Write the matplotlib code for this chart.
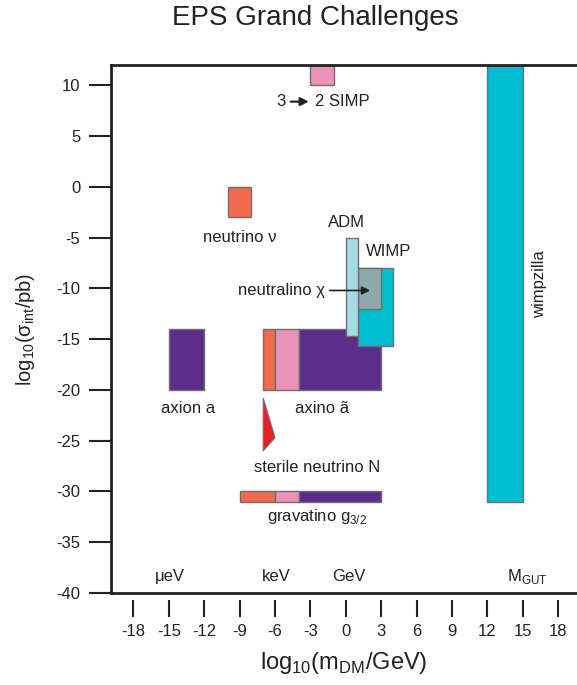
import matplotlib.pyplot as plt
from matplotlib.patches import Rectangle, Polygon

plt.rcParams['font.family'] = ['Liberation Sans', 'DejaVu Sans']
plt.rcParams['axes.unicode_minus'] = False
plt.rcParams['mathtext.fontset'] = 'custom'
plt.rcParams['mathtext.rm'] = 'Liberation Sans'

# boxes: name, x0, x1, y0, y1, colour  (log10 m / GeV, log10 sigma / pb)
box_names = ['simp', 'neutrino', 'axion', 'axino_n', 'axino_p', 'axino_x',
             'grav_n', 'grav_p', 'grav_x', 'wimp', 'neutralino', 'adm', 'wimpzilla']
box_x0 = [-3, -10, -15, -7, -6, -4, -9, -6, -4, 1, 1, 0, 12]
box_x1 = [-1, -8, -12, -6, -4, 3, -6, -4, 3, 4, 3, 1, 15]
box_y0 = [10, -3, -20, -20, -20, -20, -31, -31, -31, -15.7, -12, -14.7, -31]
box_y1 = [13, 0, -14, -14, -14, -14, -30, -30, -30, -8, -8, -5, 13]
box_colors = ['#e893b7', '#f26b4e', '#5b2c8a', '#f26b4e', '#e893b7', '#5b2c8a',
              '#f26b4e', '#e893b7', '#5b2c8a', '#00bdd2', '#8aabab', '#a6dbe6', '#00bdd2']

# sterile neutrino triangle
tri_x = [-7, -6, -7]
tri_y = [-20.8, -24.7, -26]

xticks = list(range(-18, 19, 3))
yticks = list(range(-40, 11, 5))

fig = plt.figure(figsize=(5.77, 6.85), dpi=100)
ax = fig.add_axes([0.1924, 0.1343, 0.8076, 0.7707])
ax.set_xlim(-19.9, 19.6)
ax.set_ylim(-40, 12)

for i in range(len(box_names)):
    ax.add_patch(Rectangle((box_x0[i], box_y0[i]), box_x1[i] - box_x0[i], box_y1[i] - box_y0[i],
                           facecolor=box_colors[i], edgecolor='#6f6f6f', lw=1.0))
ax.add_patch(Polygon(list(zip(tri_x, tri_y)), closed=True, facecolor='#e8202a',
                     edgecolor='#6f6f6f', lw=0.8))

fs = 12
tc = '#222222'
# 3 -> 2 SIMP
ax.text(-5.5, 8.4, '3', ha='center', va='center', fontsize=fs, color=tc)
ax.annotate('', xy=(-2.9, 8.4), xytext=(-4.9, 8.4),
            arrowprops=dict(arrowstyle='-|>', color=tc, lw=1.6, mutation_scale=12))
ax.text(-2.6, 8.4, '2 SIMP', ha='left', va='center', fontsize=fs, color=tc)

ax.text(-9.0, -5.0, 'neutrino \u03bd', ha='center', va='center', fontsize=fs, color=tc)
ax.text(0.1, -3.5, 'ADM', ha='center', va='center', fontsize=fs, color=tc)
ax.text(3.6, -6.4, 'WIMP', ha='center', va='center', fontsize=fs, color=tc)
ax.text(-1.8, -10.2, 'neutralino \u03c7', ha='right', va='center', fontsize=fs, color=tc)
ax.annotate('', xy=(2.3, -10.2), xytext=(-1.6, -10.2),
            arrowprops=dict(arrowstyle='-|>', color=tc, lw=1.2, mutation_scale=12))
ax.text(-13.4, -21.8, 'axion a', ha='center', va='center', fontsize=fs, color=tc)
ax.text(-2.0, -21.8, 'axino \u00e3', ha='center', va='center', fontsize=fs, color=tc)
ax.text(-2.4, -27.6, 'sterile neutrino N', ha='center', va='center', fontsize=fs, color=tc)
ax.text(-2.4, -32.5, r'gravatino g$_{3/2}$', ha='center', va='center', fontsize=fs, color=tc)
ax.text(16.4, -9.6, 'wimpzilla', ha='center', va='center', rotation=90, fontsize=fs, color=tc)
ax.text(-14.9, -38.4, '\u03bceV', ha='center', va='center', fontsize=fs, color=tc)
ax.text(-5.9, -38.4, 'keV', ha='center', va='center', fontsize=fs, color=tc)
ax.text(0.25, -38.4, 'GeV', ha='center', va='center', fontsize=fs, color=tc)
ax.text(15.4, -38.4, r'M$_{\rm GUT}$', ha='center', va='center', fontsize=fs, color=tc)

# frame
ax.spines['right'].set_visible(False)
for s in ['top', 'left']:
    ax.spines[s].set_linewidth(2)
    ax.spines[s].set_color(tc)
ax.spines['bottom'].set_position(('outward', 5))
ax.spines['bottom'].set_color('none')
ax.plot([0, 1], [0, 0], transform=ax.transAxes, color=tc, lw=2, clip_on=False)

ax.set_xticks(xticks)
ax.set_yticks(yticks)
ax.tick_params(axis='x', length=12, width=1.5, pad=5, labelsize=12, color=tc, labelcolor=tc)
ax.tick_params(axis='y', length=16, width=1.5, pad=6, labelsize=12, color=tc, labelcolor=tc)

ax.set_xlabel(r'log$_{10}$(m$_{\rm DM}$/GeV)', fontsize=17, labelpad=8, color=tc)
ax.set_ylabel('log$_{10}$(\u03c3$_{\\rm int}$/pb)', fontsize=14.5, labelpad=14, color=tc)
fig.text(0.546, 0.973, 'EPS Grand Challenges', ha='center', va='center', fontsize=20, color=tc)

fig.savefig('out.png', dpi=100)
